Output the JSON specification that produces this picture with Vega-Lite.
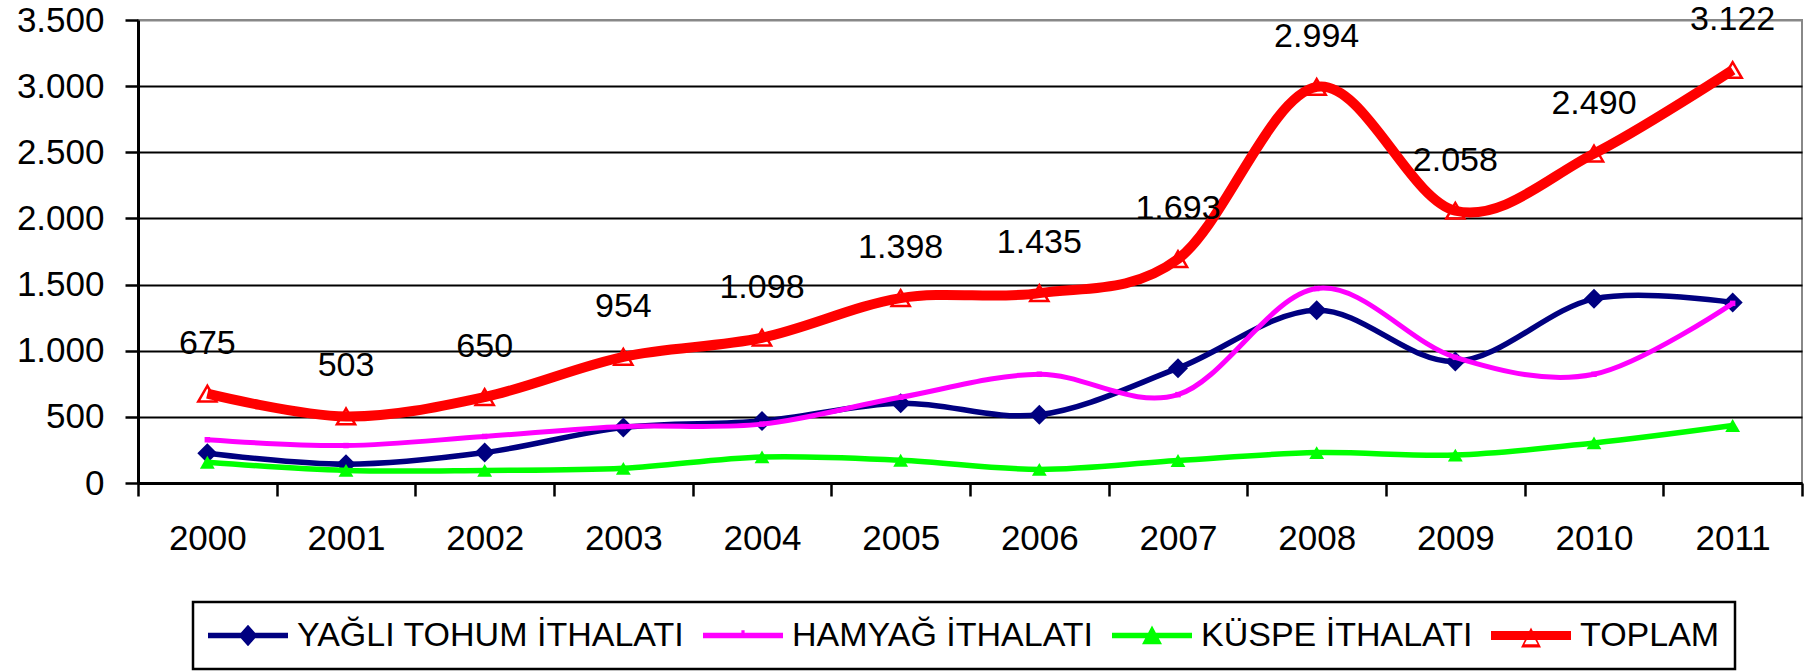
{
  "$schema": "https://vega.github.io/schema/vega-lite/v6.json",
  "autosize": {"type": "none"},
  "padding": {"left": 138, "top": 20, "right": 2, "bottom": 188},
  "width": 1664,
  "height": 463,
  "config": {
    "locale": {"number": {"decimal": ",", "thousands": ".", "grouping": [3], "currency": ["", ""]}},
    "view": {"stroke": "#888888", "strokeWidth": 2},
    "font": "Liberation Sans",
    "axis": {"labelFont": "Liberation Sans", "labelColor": "black", "labelFontSize": 35, "domainColor": "black", "tickColor": "black"}
  },
  "data": {
    "values": [
      {"year": "2000", "series": "YAĞLI TOHUM İTHALATI", "value": 225},
      {"year": "2001", "series": "YAĞLI TOHUM İTHALATI", "value": 142},
      {"year": "2002", "series": "YAĞLI TOHUM İTHALATI", "value": 230},
      {"year": "2003", "series": "YAĞLI TOHUM İTHALATI", "value": 420},
      {"year": "2004", "series": "YAĞLI TOHUM İTHALATI", "value": 468},
      {"year": "2005", "series": "YAĞLI TOHUM İTHALATI", "value": 603},
      {"year": "2006", "series": "YAĞLI TOHUM İTHALATI", "value": 516},
      {"year": "2007", "series": "YAĞLI TOHUM İTHALATI", "value": 868},
      {"year": "2008", "series": "YAĞLI TOHUM İTHALATI", "value": 1306},
      {"year": "2009", "series": "YAĞLI TOHUM İTHALATI", "value": 919},
      {"year": "2010", "series": "YAĞLI TOHUM İTHALATI", "value": 1392},
      {"year": "2011", "series": "YAĞLI TOHUM İTHALATI", "value": 1365},
      {"year": "2000", "series": "HAMYAĞ İTHALATI", "value": 327},
      {"year": "2001", "series": "HAMYAĞ İTHALATI", "value": 283},
      {"year": "2002", "series": "HAMYAĞ İTHALATI", "value": 352},
      {"year": "2003", "series": "HAMYAĞ İTHALATI", "value": 427},
      {"year": "2004", "series": "HAMYAĞ İTHALATI", "value": 445},
      {"year": "2005", "series": "HAMYAĞ İTHALATI", "value": 648},
      {"year": "2006", "series": "HAMYAĞ İTHALATI", "value": 822},
      {"year": "2007", "series": "HAMYAĞ İTHALATI", "value": 668},
      {"year": "2008", "series": "HAMYAĞ İTHALATI", "value": 1470},
      {"year": "2009", "series": "HAMYAĞ İTHALATI", "value": 950},
      {"year": "2010", "series": "HAMYAĞ İTHALATI", "value": 822},
      {"year": "2011", "series": "HAMYAĞ İTHALATI", "value": 1358},
      {"year": "2000", "series": "KÜSPE İTHALATI", "value": 157},
      {"year": "2001", "series": "KÜSPE İTHALATI", "value": 95},
      {"year": "2002", "series": "KÜSPE İTHALATI", "value": 95},
      {"year": "2003", "series": "KÜSPE İTHALATI", "value": 111},
      {"year": "2004", "series": "KÜSPE İTHALATI", "value": 197},
      {"year": "2005", "series": "KÜSPE İTHALATI", "value": 172},
      {"year": "2006", "series": "KÜSPE İTHALATI", "value": 103},
      {"year": "2007", "series": "KÜSPE İTHALATI", "value": 170},
      {"year": "2008", "series": "KÜSPE İTHALATI", "value": 230},
      {"year": "2009", "series": "KÜSPE İTHALATI", "value": 211},
      {"year": "2010", "series": "KÜSPE İTHALATI", "value": 303},
      {"year": "2011", "series": "KÜSPE İTHALATI", "value": 435},
      {"year": "2000", "series": "TOPLAM", "value": 675},
      {"year": "2001", "series": "TOPLAM", "value": 503},
      {"year": "2002", "series": "TOPLAM", "value": 650},
      {"year": "2003", "series": "TOPLAM", "value": 954},
      {"year": "2004", "series": "TOPLAM", "value": 1098},
      {"year": "2005", "series": "TOPLAM", "value": 1398},
      {"year": "2006", "series": "TOPLAM", "value": 1435},
      {"year": "2007", "series": "TOPLAM", "value": 1693},
      {"year": "2008", "series": "TOPLAM", "value": 2994},
      {"year": "2009", "series": "TOPLAM", "value": 2058},
      {"year": "2010", "series": "TOPLAM", "value": 2490},
      {"year": "2011", "series": "TOPLAM", "value": 3122}
    ]
  },
  "encoding": {
    "x": {
      "field": "year", "type": "ordinal",
      "scale": {"type": "band", "paddingInner": 0, "paddingOuter": 0},
      "axis": {"title": null, "labelAngle": 0, "tickBand": "extent", "tickSize": 13, "tickWidth": 2.5, "domainWidth": 3, "labelPadding": 25, "grid": false}
    },
    "y": {
      "field": "value", "type": "quantitative",
      "scale": {"domain": [0, 3500], "nice": false},
      "axis": {
        "title": null, "values": [0, 500, 1000, 1500, 2000, 2500, 3000, 3500], "format": ",d",
        "tickSize": 13, "tickWidth": 2.5, "domainWidth": 3, "labelPadding": 21,
        "grid": true, "gridWidth": 2.2,
        "gridColor": {"condition": {"test": "datum.value === 3500", "value": "#888888"}, "value": "black"}
      }
    }
  },
  "layer": [
    {
      "transform": [{"filter": "datum.series === 'YAĞLI TOHUM İTHALATI'"}],
      "mark": {"type": "line", "interpolate": "cardinal", "strokeWidth": 5.5},
      "encoding": {
        "color": {
          "field": "series", "type": "nominal",
          "scale": {"domain": ["YAĞLI TOHUM İTHALATI", "HAMYAĞ İTHALATI", "KÜSPE İTHALATI", "TOPLAM"], "range": ["#000080", "#FF00FF", "#00FF00", "#FF0000"]},
          "legend": {
            "title": null, "orient": "none", "legendX": 55, "legendY": 582, "direction": "horizontal", "columns": 4,
            "labelFont": "Liberation Sans", "labelFontSize": 34, "labelColor": "black", "labelLimit": 1000,
            "labelOffset": 9, "columnPadding": 18, "padding": 15, "symbolSize": 6400, "symbolStrokeWidth": 0,
            "clipHeight": 37, "strokeColor": "black", "fillColor": "white",
            "encode": {
              "legend": {"update": {"strokeWidth": {"value": 2.5}}},
              "symbols": {"update": {
                "shape": {"signal": "datum.value === 'TOPLAM' ? 'M-1,-0.1125H1V0.1125H-1ZM0,-0.2L0.25,0.3H-0.25ZM0,-0.09L-0.165,0.22H0.165Z' : datum.value === 'KÜSPE İTHALATI' ? 'M-1,-0.07H1V0.07H-1ZM0,-0.25L0.25,0.22H-0.25Z' : datum.value === 'HAMYAĞ İTHALATI' ? 'M-1,-0.07H1V0.07H-1ZM-0.04,-0.13H0.04V0H-0.04Z' : 'M-1,-0.07H1V0.07H-1ZM0,-0.27L0.24,0L0,0.27L-0.24,0Z'"},
                "fill": {"scale": "color", "field": "value"},
                "fillOpacity": {"value": 1},
                "stroke": {"value": "transparent"},
                "strokeWidth": {"value": 0},
                "opacity": {"value": 1}
              }}
            }
          }
        }
      }
    },
    {
      "transform": [{"filter": "datum.series === 'YAĞLI TOHUM İTHALATI'"}],
      "mark": {"type": "point", "shape": "diamond", "filled": true, "color": "#000080", "size": 400, "opacity": 1}
    },
    {
      "transform": [{"filter": "datum.series === 'HAMYAĞ İTHALATI'"}],
      "mark": {"type": "line", "interpolate": "cardinal", "strokeWidth": 5},
      "encoding": {"color": {"field": "series", "type": "nominal", "legend": null}}
    },
    {
      "transform": [{"filter": "datum.series === 'HAMYAĞ İTHALATI'"}],
      "mark": {"type": "point", "shape": "square", "filled": true, "color": "#FF00FF", "size": 30, "opacity": 1}
    },
    {
      "transform": [{"filter": "datum.series === 'KÜSPE İTHALATI'"}],
      "mark": {"type": "line", "interpolate": "cardinal", "strokeWidth": 5.5},
      "encoding": {"color": {"field": "series", "type": "nominal", "legend": null}}
    },
    {
      "transform": [{"filter": "datum.series === 'KÜSPE İTHALATI'"}],
      "mark": {"type": "point", "shape": "triangle-up", "filled": true, "color": "#00FF00", "size": 220, "opacity": 1}
    },
    {
      "transform": [{"filter": "datum.series === 'TOPLAM'"}],
      "mark": {"type": "point", "shape": "triangle-up", "filled": false, "stroke": "#FF0000", "strokeWidth": 2.5, "size": 330, "opacity": 1}
    },
    {
      "transform": [{"filter": "datum.series === 'TOPLAM'"}],
      "mark": {"type": "line", "interpolate": "cardinal", "strokeWidth": 10},
      "encoding": {"color": {"field": "series", "type": "nominal", "legend": null}}
    },
    {
      "transform": [{"filter": "datum.series === 'TOPLAM'"}],
      "mark": {"type": "text", "font": "Liberation Sans", "fontSize": 34, "color": "black", "align": "center", "baseline": "alphabetic", "dy": -40},
      "encoding": {"text": {"field": "value", "type": "quantitative", "format": ",d"}}
    }
  ]
}
